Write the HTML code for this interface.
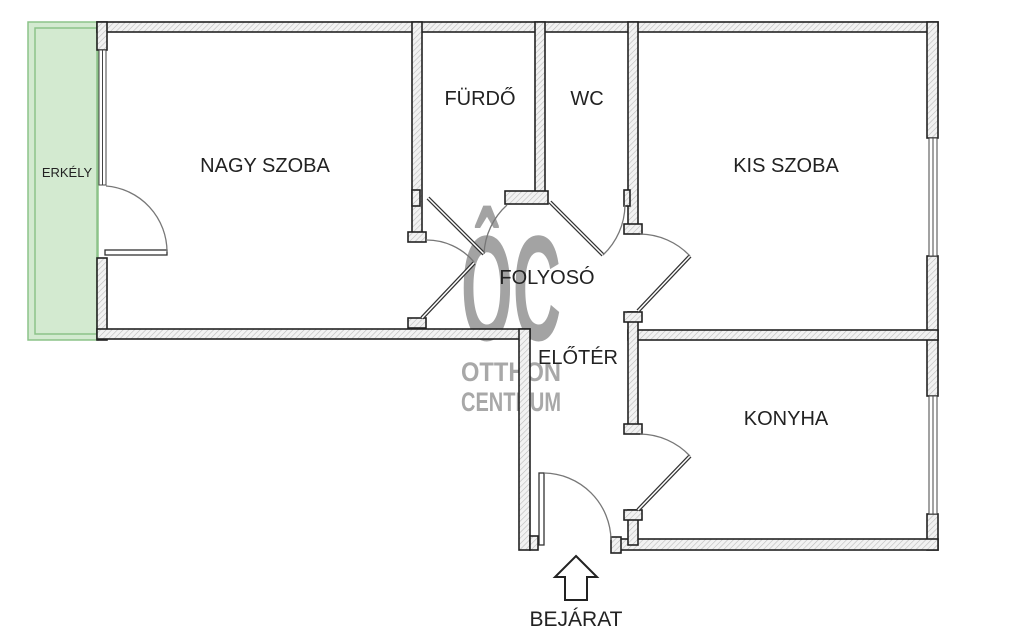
<!DOCTYPE html>
<html><head><meta charset="utf-8"><style>
html,body{margin:0;padding:0;background:#fff;}
svg{display:block;}
text{font-family:"Liberation Sans",sans-serif;fill:#222;}
</style></head><body>
<svg width="1024" height="629" viewBox="0 0 1024 629" xmlns="http://www.w3.org/2000/svg">
<defs>
<pattern id="h" width="4" height="4" patternUnits="userSpaceOnUse" patternTransform="rotate(45)">
<rect width="4" height="4" fill="#f2f2f2"/><line x1="0" y1="0" x2="0" y2="4" stroke="#bbb" stroke-width="1.2"/>
</pattern>
</defs>
<rect x="28" y="22" width="70" height="318" fill="#d3ead0" stroke="#8cc389" stroke-width="1.5"/>
<rect x="35" y="28" width="62" height="306" fill="none" stroke="#8cc389" stroke-width="1.5"/>
<text x="67" y="177" font-size="13" text-anchor="middle">ERKÉLY</text>

<!-- watermark -->
<g>
<text x="511" y="340" font-size="150" font-weight="bold" text-anchor="middle" style="fill:#a3a3a3" textLength="100" lengthAdjust="spacingAndGlyphs">ÔC</text>
<text x="511" y="381" font-size="27" font-weight="bold" text-anchor="middle" style="fill:#a8a8a8" textLength="100" lengthAdjust="spacingAndGlyphs">OTTHON</text>
<text x="511" y="411" font-size="27" font-weight="bold" text-anchor="middle" style="fill:#a8a8a8" textLength="100" lengthAdjust="spacingAndGlyphs">CENTRUM</text>
</g>

<g fill="url(#h)" stroke="#222" stroke-width="1.6">
<rect x="97" y="22" width="841" height="10"/>
<rect x="97" y="22" width="10" height="28"/>
<rect x="97" y="258" width="10" height="82"/>
<rect x="97" y="329" width="433" height="10"/>
<rect x="519" y="329" width="11" height="221"/>
<rect x="927" y="22" width="11" height="116"/>
<rect x="927" y="256" width="11" height="140"/>
<rect x="927" y="514" width="11" height="36"/>
<rect x="615" y="539" width="323" height="11"/>
<rect x="611" y="537" width="10" height="16"/>
<rect x="628" y="330" width="310" height="10"/>
<rect x="412" y="22" width="10" height="218"/>
<rect x="408" y="232" width="18" height="10"/>
<rect x="412" y="190" width="8" height="16"/>
<rect x="408" y="318" width="18" height="10"/>
<rect x="535" y="22" width="10" height="180"/>
<rect x="505" y="191" width="43" height="13"/>
<rect x="628" y="22" width="10" height="208"/>
<rect x="624" y="224" width="18" height="10"/>
<rect x="624" y="190" width="6" height="16"/>
<rect x="628" y="312" width="10" height="120"/>
<rect x="624" y="312" width="18" height="10"/>
<rect x="624" y="424" width="18" height="10"/>
<rect x="628" y="510" width="10" height="35"/>
<rect x="624" y="510" width="18" height="10"/>
<rect x="530" y="536" width="8" height="14"/>
</g>
<g fill="#fff" stroke="#444" stroke-width="1">
<rect x="99" y="50" width="7" height="135"/>
<line x1="102.5" y1="50" x2="102.5" y2="185"/>
<rect x="929" y="138" width="8" height="118"/>
<line x1="933" y1="138" x2="933" y2="256"/>
<rect x="929" y="396" width="8" height="118"/>
<line x1="933" y1="396" x2="933" y2="514"/>
</g>
<g fill="#fff" stroke="#333" stroke-width="1.3">
<rect x="105" y="250" width="62" height="5"/>
<path d="M106 186 A66 66 0 0 1 167 252" fill="none" stroke="#777"/>
<line x1="428" y1="198" x2="484" y2="254" stroke-width="4"/><line x1="428" y1="198" x2="484" y2="254" stroke="#fff" stroke-width="1.5"/>
<path d="M426 240 A62 62 0 0 1 474 262" fill="none" stroke="#777"/>
<line x1="422" y1="318" x2="474" y2="263" stroke-width="4"/><line x1="422" y1="318" x2="474" y2="263" stroke="#fff" stroke-width="1.5"/>
<path d="M484 254 A70 70 0 0 1 507 205" fill="none" stroke="#777"/>
<line x1="550" y1="202" x2="603" y2="255" stroke-width="4"/><line x1="550" y1="202" x2="603" y2="255" stroke="#fff" stroke-width="1.5"/>
<path d="M603 255 A70 70 0 0 0 625 205" fill="none" stroke="#777"/>
<line x1="638" y1="311" x2="690" y2="256" stroke-width="4"/><line x1="638" y1="311" x2="690" y2="256" stroke="#fff" stroke-width="1.5"/>
<path d="M640 234 A70 70 0 0 1 690 256" fill="none" stroke="#777"/>
<line x1="638" y1="510" x2="690" y2="456" stroke-width="4"/><line x1="638" y1="510" x2="690" y2="456" stroke="#fff" stroke-width="1.5"/>
<path d="M640 434 A70 70 0 0 1 690 456" fill="none" stroke="#777"/>
<rect x="539" y="473" width="5" height="72"/>
<path d="M544 473 A68 68 0 0 1 611 540" fill="none" stroke="#777"/>
</g>
<g font-size="20" text-anchor="middle">
<text x="265" y="172">NAGY SZOBA</text>
<text x="480" y="105">FÜRDŐ</text>
<text x="587" y="105">WC</text>
<text x="786" y="172">KIS SZOBA</text>
<text x="547" y="284">FOLYOSÓ</text>
<text x="578" y="364">ELŐTÉR</text>
<text x="786" y="425">KONYHA</text>
<text x="576" y="626" font-size="21">BEJÁRAT</text>
</g>
<path d="M576 556 L597 577 L587 577 L587 600 L565 600 L565 577 L555 577 Z" fill="#fff" stroke="#222" stroke-width="2"/>
</svg>
</body></html>
